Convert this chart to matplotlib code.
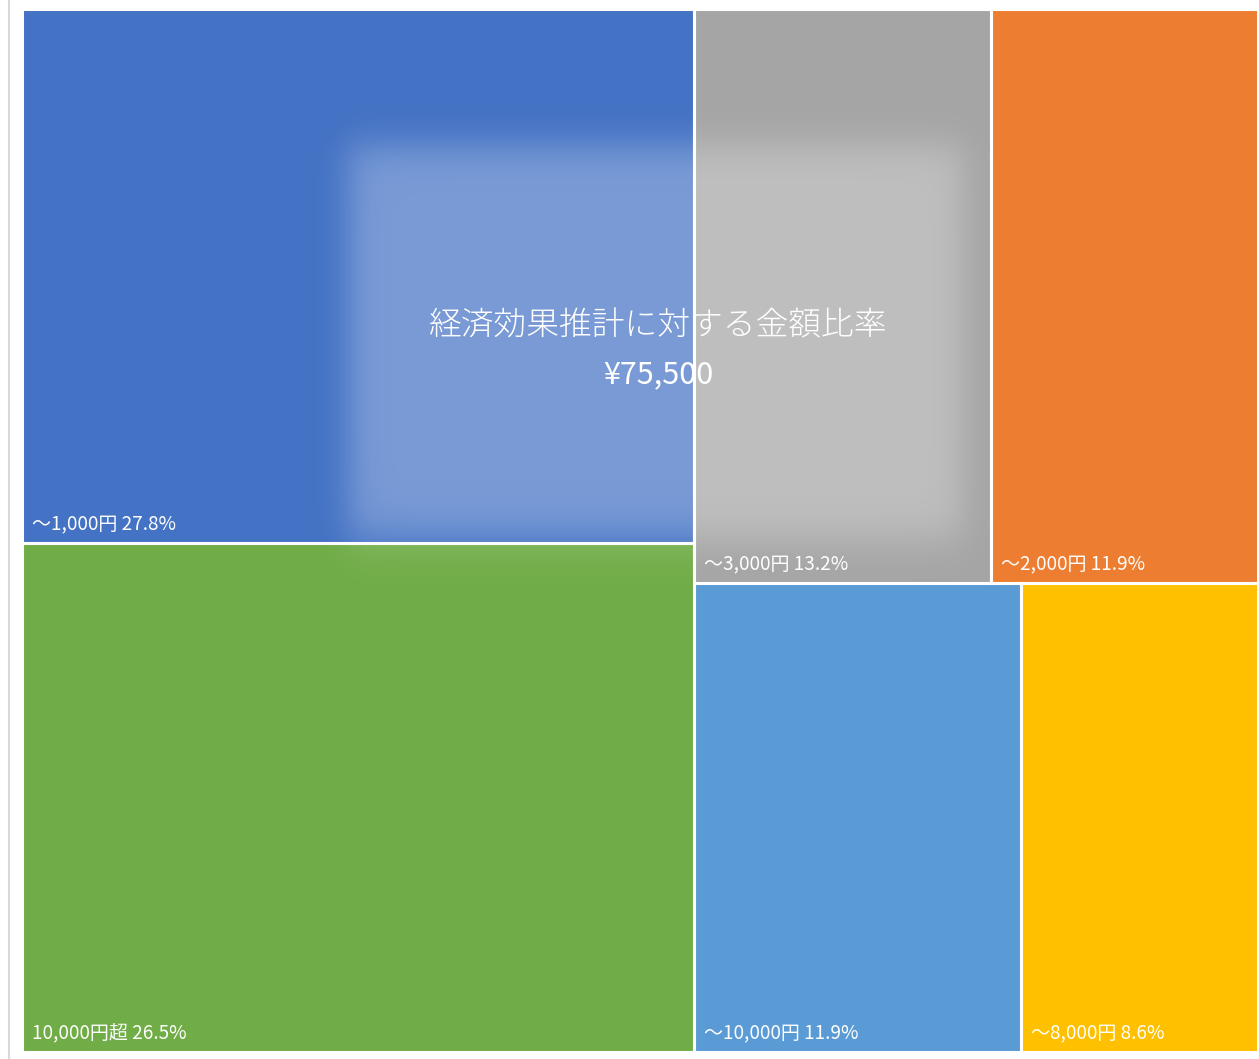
import matplotlib.pyplot as plt
import numpy as np
from matplotlib.lines import Line2D
from matplotlib.patches import Rectangle

plt.rcParams["font.family"] = ["Noto Sans CJK JP", "DejaVu Sans"]

# data
categories = ["～1,000円", "10,000円超", "～3,000円", "～2,000円", "～10,000円", "～8,000円"]
ratios = [27.8, 26.5, 13.2, 11.9, 11.9, 8.6]
colors = ["#4472C4", "#70AD47", "#A5A5A5", "#ED7D31", "#5B9BD5", "#FFC000"]
title_text = "経済効果推計に対する金額比率"
total_text = "¥75,500"

W, H = 1259, 1059
X0, Y0, X1, Y1 = 22, 9, 1258, 1052


def treemap_rects(vals, x0, y0, x1, y1):
    """left column: tiles 0,1 stacked; right block: rows (2,3) and (4,5)"""
    v = np.array(vals, dtype=float)
    tot = v.sum()
    w, h = x1 - x0, y1 - y0
    rects = [None] * len(v)
    left_w = w * (v[0] + v[1]) / tot
    ycur = y0
    for i in (0, 1):
        hh = h * v[i] / (v[0] + v[1])
        rects[i] = (x0, ycur, left_w, hh)
        ycur += hh
    right_tot = v[2:].sum()
    ycur = y0
    for row in ((2, 3), (4, 5)):
        row_sum = v[list(row)].sum()
        hh = h * row_sum / right_tot
        xcur = x0 + left_w
        for i in row:
            ww = (w - left_w) * v[i] / row_sum
            rects[i] = (xcur, ycur, ww, hh)
            xcur += ww
        ycur += hh
    return rects


fig = plt.figure(figsize=(W / 100, H / 100), dpi=100)
ax = fig.add_axes([0, 0, 1, 1])
ax.set_xlim(0, W)
ax.set_ylim(H, 0)
ax.axis("off")

# left axis line
ax.add_line(Line2D([9, 9], [0, H], color="#d9d9d9", lw=1.5))

rects = treemap_rects(ratios, X0, Y0, X1, Y1)
for (x, y, w, h), c in zip(rects, colors):
    ax.add_patch(Rectangle((x, y), w, h, facecolor=c, edgecolor="none", zorder=1))

# soft glow box behind the title
xx, yy = np.meshgrid(np.arange(W), np.arange(H))
sig = lambda t, s: 1 / (1 + np.exp(-t / s))
mask = sig(xx - 348, 10) * sig(962 - xx, 10) * sig(yy - 145, 11) * sig(538 - yy, 13)
glow = np.zeros((H, W, 4))
glow[..., :3] = 1.0
glow[..., 3] = 0.29 * mask
ax.imshow(glow, extent=(0, W, H, 0), zorder=2, interpolation="bilinear")

# white gaps between tiles
for (x, y, w, h) in rects:
    ax.add_patch(Rectangle((x, y), w, h, facecolor="none", edgecolor="white", lw=2.2, zorder=3))

for (x, y, w, h), cat, r in zip(rects, categories, ratios):
    ax.text(x + 10, y + h - 18, f"{cat} {r:.1f}%", color="white", fontsize=13.7,
            ha="left", va="center", zorder=4)

ax.text(658, 326, title_text, color="white", fontsize=23.6, fontweight="light",
        ha="center", va="center", zorder=4)
ax.text(658, 375, total_text, color="white", fontsize=22, ha="center", va="center", zorder=4)

fig.savefig("out.png", dpi=100)
